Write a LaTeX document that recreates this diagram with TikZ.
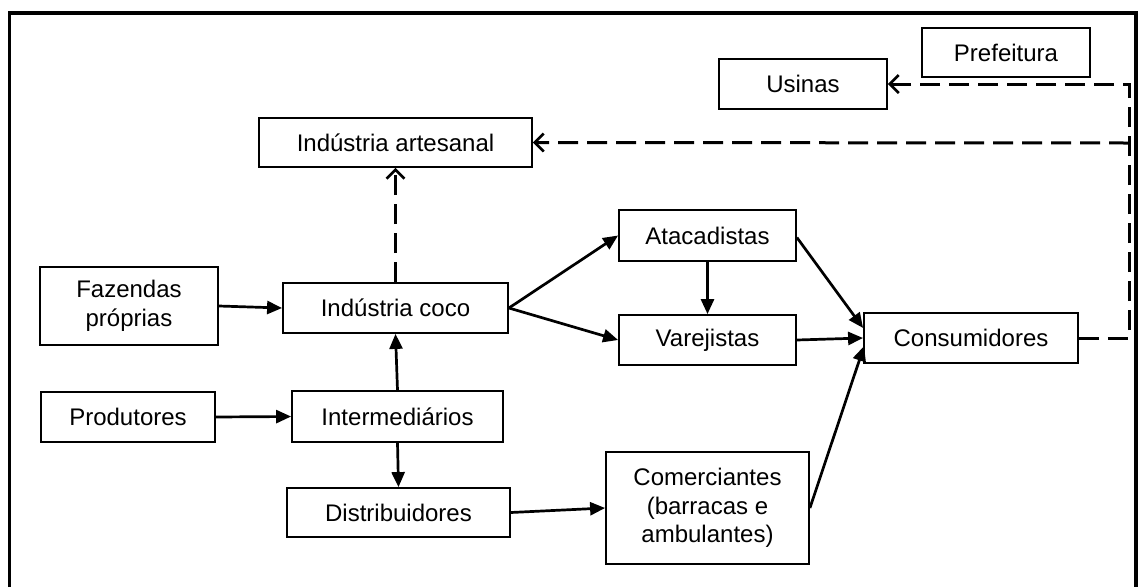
\documentclass[tikz,border=0pt]{standalone}
\usepackage{fontspec}
\setmainfont{Liberation Sans}
\usetikzlibrary{arrows.meta}
\begin{document}
\begin{tikzpicture}[x=1pt,y=-1pt,
  box/.style={draw=black,line width=1.8pt,fill=white,inner sep=0pt,align=center,
    font=\fontsize{24}{28.5}\selectfont},
  flow/.style={line width=2.7pt,-{Triangle[length=15pt,width=13pt]}},
  dflow/.style={line width=3pt,dash pattern=on 20pt off 9pt,-{Straight Barb[length=9pt,width=18pt,line width=2.6pt]}},
  dline/.style={line width=3pt,dash pattern=on 20pt off 9pt}]
\useasboundingbox (0,0) rectangle (1138,587);
\draw[line width=3.2pt] (9.5,587) -- (9.5,13) -- (1136,13) -- (1136,587);
% nodes
\node[box,minimum width=168pt,minimum height=49pt] (pref) at (1006,52.5) {Prefeitura};
\node[box,minimum width=168pt,minimum height=50pt] (usin) at (803,84) {Usinas};
\node[box,minimum width=273pt,minimum height=49pt] (art) at (395.5,142.5) {Indústria artesanal};
\node[box,minimum width=178pt,minimum height=78pt] (faz) at (129,306) {Fazendas\\próprias};
\node[box,minimum width=225pt,minimum height=50pt] (coco) at (395.5,308) {Indústria coco};
\node[box,minimum width=174pt,minimum height=50pt] (prod) at (128,417) {Produtores};
\node[box,minimum width=211pt,minimum height=51pt] (inter) at (397.5,416.5) {Intermediários};
\node[box,minimum width=223pt,minimum height=49pt] (dist) at (398.5,512.5) {Distribuidores};
\node[box,minimum width=177pt,minimum height=51pt] (ata) at (707.5,235.5) {Atacadistas};
\node[box,minimum width=177pt,minimum height=50pt] (var) at (707.5,340) {Varejistas};
\node[box,minimum width=203pt,minimum height=112pt] (com) at (707.5,508) {Comerciantes\\(barracas e\\ambulantes)};
\node[box,minimum width=214pt,minimum height=50pt] (cons) at (971,338) {Consumidores};
% coordinates of the dashed return line
\coordinate (r1) at (1129,338);
\coordinate (r2) at (1129,84);
\coordinate (r3) at (1129,143);
% solid connectors
\draw[flow] (faz.east) -- (coco.west);
\draw[flow] (prod.east) -- (inter.west);
\draw[flow] (inter.north) -- (coco.south);
\draw[flow] (inter.south) -- (dist.north);
\draw[flow] (coco.east) -- (ata.west);
\draw[flow] (coco.east) -- (var.west);
\draw[flow] (ata.south) -- (var.north);
\draw[flow] (dist.east) -- (com.west);
\draw[flow] ([yshift=-2pt]ata.east) -- ([yshift=10pt]cons.west);
\draw[flow] (var.east) -- (cons.west);
\draw[flow] (com.east) -- ([yshift=-8pt,xshift=1pt]cons.west);
% dashed connectors
\draw[dflow] (coco.north) -- (art.south);
\draw[dflow] (cons.east) -- (r1) -- (r2) -- (usin.east);
\draw[dflow] (r3) -- (art.east);
\end{tikzpicture}
\end{document}
